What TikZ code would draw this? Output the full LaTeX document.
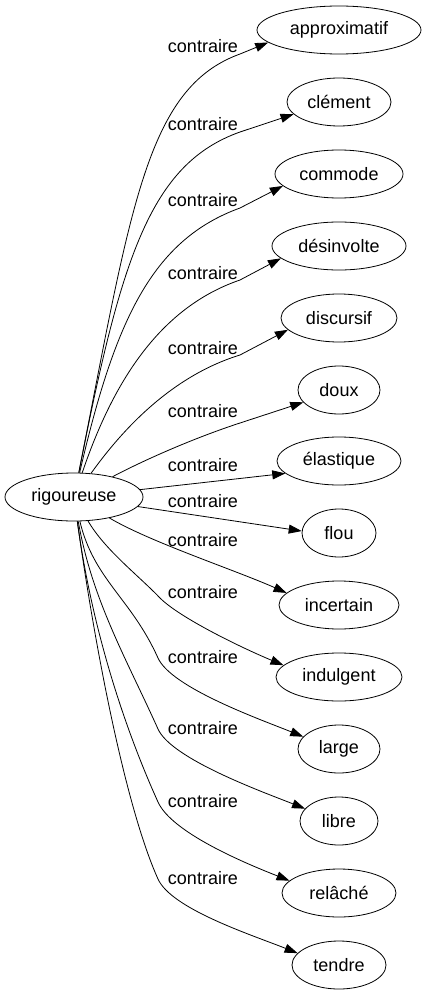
\documentclass[tikz,border=0pt]{standalone}
\usepackage{fontspec}
\setmainfont{Liberation Sans}
\usetikzlibrary{shapes.geometric,arrows.meta}
\begin{document}
\begin{tikzpicture}[x=1pt,y=-1pt,
  word/.style={ellipse,draw,line width=0.8pt,inner sep=0pt,minimum height=48pt,font=\fontsize{18}{20}\selectfont},
  lab/.style={anchor=base,inner sep=0pt,font=\fontsize{18}{20}\selectfont},
  edge/.style={line width=0.8pt,-{Triangle[length=13pt,width=9pt]}}]
\useasboundingbox (0,0) rectangle (426,995);
\node[word,minimum width=138pt] (rig) at (74,497) {rigoureuse};
\node[word,minimum width=164pt] (n0) at (339,30) {approximatif};
\node[word,minimum width=104pt] (n1) at (339,102) {clément};
\node[word,minimum width=128pt] (n2) at (339,174) {commode};
\node[word,minimum width=134pt] (n3) at (339,246) {désinvolte};
\node[word,minimum width=116pt] (n4) at (339,318) {discursif};
\node[word,minimum width=82pt] (n5) at (339,390) {doux};
\node[word,minimum width=124pt] (n6) at (339,461) {élastique};
\node[word,minimum width=74pt] (n7) at (339,533) {flou};
\node[word,minimum width=120pt] (n8) at (339,605) {incertain};
\node[word,minimum width=126pt] (n9) at (339,677) {indulgent};
\node[word,minimum width=82pt] (n10) at (339,749) {large};
\node[word,minimum width=78pt] (n11) at (339,821) {libre};
\node[word,minimum width=114pt] (n12) at (339,893) {relâché};
\node[word,minimum width=94pt] (n13) at (339,965) {tendre};
\node[lab] (l0) at (203,53) {contraire};
\node[lab] (l1) at (203,131) {contraire};
\node[lab] (l2) at (203,207) {contraire};
\node[lab] (l3) at (203,279) {contraire};
\node[lab] (l4) at (203,354) {contraire};
\node[lab] (l5) at (203,417) {contraire};
\node[lab] (l6) at (203,471) {contraire};
\node[lab] (l7) at (203,507) {contraire};
\node[lab] (l8) at (203,546) {contraire};
\node[lab] (l9) at (203,598) {contraire};
\node[lab] (l10) at (203,663) {contraire};
\node[lab] (l11) at (203,734) {contraire};
\node[lab] (l12) at (203,807) {contraire};
\node[lab] (l13) at (203,884) {contraire};
\draw[edge] (rig) .. controls (131,208) and (146,88) .. (240,54) -- (n0.190);
\draw[edge] (rig) .. controls (121,258) and (150,164) .. (240,132) -- (n1.195);
\draw[edge] (rig) .. controls (115,320) and (152,240) .. (240,208) -- (n2.192);
\draw[edge] (rig) .. controls (112,385) and (158,308) .. (240,280) -- (n3.192);
\draw[edge] (rig) .. controls (115,440) and (165,378) .. (240,355) -- (n4.193);
\draw[edge] (rig) .. controls (150,457) and (200,436) .. (240,423) -- (n5.199);
\draw[edge] (rig) -- (n6.193);
\draw[edge] (rig) -- (n7.177);
\draw[edge] (rig) .. controls (150,542) and (235,570) .. (n8.167);
\draw[edge] (rig) .. controls (105,550) and (138,575) .. (160,598) .. controls (180,618) and (242,648) .. (n9.168);
\draw[edge] (rig) .. controls (94,580) and (131,598) .. (158,658) .. controls (171.5,688) and (262,720) .. (n10.161);
\draw[edge] (rig) .. controls (92,600) and (127,660) .. (158,729) .. controls (171.5,759) and (263,792) .. (n11.160);
\draw[edge] (rig) .. controls (92,630) and (125,729) .. (158,802) .. controls (171.5,832) and (242,862) .. (n12.166);
\draw[edge] (rig) .. controls (94,642) and (125,806) .. (158,879) .. controls (171.5,909) and (252,935) .. (n13.164);
\end{tikzpicture}
\end{document}
